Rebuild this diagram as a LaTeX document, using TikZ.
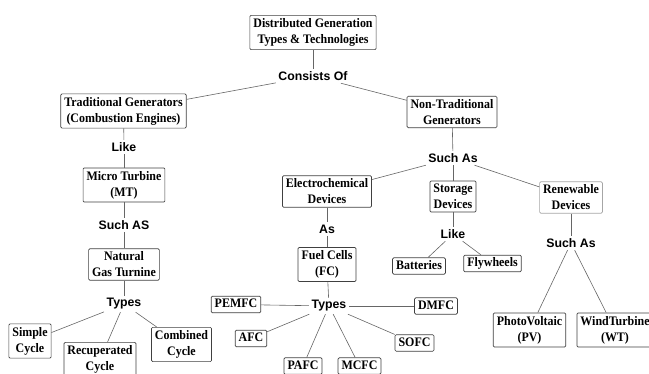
\documentclass[tikz,border=0pt]{standalone}
\usepackage{fontspec}
\newfontfamily\boxfont[FakeStretch=0.92]{Liberation Serif}
\newfontfamily\lblfont{Liberation Sans}
\begin{document}
\begin{tikzpicture}[x=1pt,y=-1pt,
  box/.style={draw=black!75, line width=0.7pt, rounded corners=1.2pt, fill=white,
    inner xsep=3.5pt, inner ysep=3.2pt, align=center,
    font=\boxfont\bfseries\fontsize{13}{16}\selectfont},
  lightbox/.style={box, draw=black!35},
  one/.style={text height=9pt, text depth=2.5pt, inner ysep=2.5pt},
  lbl/.style={inner sep=2.5pt, font=\lblfont\bfseries\fontsize{12.3}{14}\selectfont},
  con/.style={draw=black!60, line width=0.6pt}]
\useasboundingbox (0,0) rectangle (649,374);
% top
\node[box] (root) at (313,32.5) {Distributed Generation\\Types \& Technologies};
\node[lbl] (consists) at (313,76) {Consists Of};
\node[box] (trad) at (123.5,111) {Traditional Generators\\(Combustion Engines)};
\node[box] (nontrad) at (452,112) {Non-Traditional\\Generators};
% left branch
\node[lbl] (like1) at (124,147) {Like};
\node[box] (mt) at (124,185) {Micro Turbine\\(MT)};
\node[lbl] (suchas1) at (124,225) {Such AS};
\node[box] (ngt) at (124,264.5) {Natural\\Gas Turnine};
\node[lbl] (types1) at (124,304) {Types};
\node[box] (simple) at (30,341) {Simple\\Cycle};
\node[box] (recup) at (100,359.5) {Recuperated\\Cycle};
\node[box] (combined) at (181.5,344.5) {Combined\\Cycle};
% right branch
\node[lbl] (suchas2) at (453,158) {Such As};
\node[box] (electro) at (327,191.5) {Electrochemical\\Devices};
\node[box] (storage) at (453,196.5) {Storage\\Devices};
\node[lightbox] (renew) at (571,197.5) {Renewable\\Devices};
\node[lbl] (as) at (327,229) {As};
\node[box] (fc) at (327,264.5) {Fuel Cells\\(FC)};
\node[lbl] (types2) at (329,306) {Types};
\node[box,one] (pemfc) at (236,304.5) {PEMFC};
\node[box,one] (afc) at (251,338.5) {AFC};
\node[box,one] (pafc) at (303,366) {PAFC};
\node[box,one] (mcfc) at (359.5,366) {MCFC};
\node[box,one] (sofc) at (414.5,343) {SOFC};
\node[box,one] (dmfc) at (436,306) {DMFC};
\node[lbl] (like2) at (453,234) {Like};
\node[box,one] (batt) at (419,266) {Batteries};
\node[box,one] (fly) at (492.5,263.5) {Flywheels};
\node[lbl] (suchas3) at (571,243) {Such As};
\node[box] (pv) at (529.5,330) {PhotoVoltaic\\(PV)};
\node[box] (wt) at (615,330) {WindTurbine\\(WT)};
% connectors
\path[con] (root) -- (consists);
\path[con] (consists) -- (trad);
\path[con] (consists) -- (nontrad);
\path[con] (trad) -- (like1);
\path[con] (like1) -- (mt);
\path[con] (mt) -- (suchas1);
\path[con] (suchas1) -- (ngt);
\path[con] (ngt) -- (types1);
\path[con] (types1) -- (simple);
\path[con] (types1) -- (recup);
\path[con] (types1) -- (combined);
\path[con] (nontrad) -- (suchas2);
\path[con] (suchas2) -- (electro);
\path[con] (suchas2) -- (storage);
\path[con] (suchas2) -- (renew);
\path[con] (electro) -- (as);
\path[con] (as) -- (fc);
\path[con] (fc) -- (types2);
\path[con] (types2) -- (pemfc);
\path[con] (types2) -- (afc);
\path[con] (types2) -- (pafc);
\path[con] (types2) -- (mcfc);
\path[con] (types2) -- (sofc);
\path[con] (types2) -- (dmfc);
\path[con] (storage) -- (like2);
\path[con] (like2) -- (batt);
\path[con] (like2) -- (fly);
\path[con] (renew) -- (suchas3);
\path[con] (suchas3) -- (pv);
\path[con] (suchas3) -- (wt);
\end{tikzpicture}
\end{document}
